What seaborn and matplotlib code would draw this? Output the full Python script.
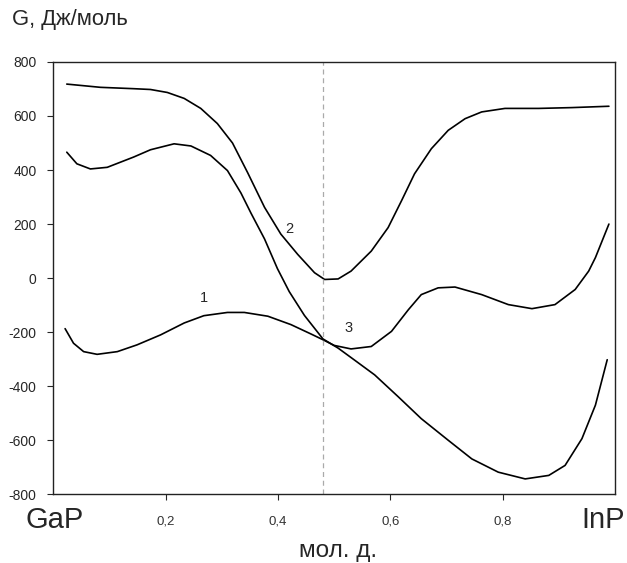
import matplotlib
matplotlib.use("Agg")
import matplotlib.pyplot as plt
import pandas as pd
import seaborn as sns

# curve values (x in mole fraction, G in J/mol)
x1 = [0.021, 0.036, 0.054, 0.078, 0.114, 0.149, 0.191, 0.233, 0.268, 0.310,
      0.340, 0.382, 0.423, 0.459, 0.480, 0.500, 0.530, 0.566, 0.602, 0.632,
      0.655, 0.685, 0.715, 0.7625, 0.810, 0.852, 0.893, 0.929, 0.953, 0.965,
      0.989]
g1 = [-187, -241, -272, -282, -272, -247, -210, -166, -139, -127,
      -127, -141, -172, -207, -228, -249, -262, -253, -197, -117,
      -61, -36, -33, -61, -98, -113, -98, -42, 26, 76,
      200]

x2 = [0.024, 0.084, 0.143, 0.173, 0.203, 0.233, 0.2625, 0.292, 0.319, 0.346,
      0.376, 0.405, 0.435, 0.465, 0.483, 0.507, 0.530, 0.566, 0.596, 0.620,
      0.643, 0.673, 0.703, 0.733, 0.7625, 0.804, 0.864, 0.923, 0.989]
g2 = [718, 706, 701, 698, 687, 665, 628, 572, 500, 390,
      262, 163, 88, 20, -5, -3, 26, 100, 187, 287,
      386, 479, 547, 590, 615, 628, 628, 631, 636]

x3 = [0.024, 0.042, 0.066, 0.096, 0.143, 0.173, 0.215, 0.245, 0.280, 0.310,
      0.334, 0.352, 0.376, 0.399, 0.420, 0.447, 0.480, 0.507, 0.536, 0.572,
      0.614, 0.655, 0.703, 0.745, 0.792, 0.840, 0.882, 0.911, 0.941, 0.965,
      0.986]
g3 = [466, 423, 404, 410, 448, 475, 497, 489, 454, 398,
      315, 240, 145, 35, -50, -138, -225, -259, -303, -358,
      -439, -520, -600, -669, -718, -743, -730, -693, -594, -470,
      -302]

curve_labels = ["1", "2", "3"]
label_x = [0.268, 0.42, 0.525]
label_y = [-75, 180, -185]

x_ticks = [0.2, 0.4, 0.6, 0.8]
x_tick_labels = ["0,2", "0,4", "0,6", "0,8"]
y_ticks = [-800, -600, -400, -200, 0, 200, 400, 600, 800]
end_labels = ["GaP", "InP"]
x_mark = 0.48

df = pd.concat([
    pd.DataFrame({"x": x1, "G": g1, "curve": "1"}),
    pd.DataFrame({"x": x2, "G": g2, "curve": "2"}),
    pd.DataFrame({"x": x3, "G": g3, "curve": "3"}),
])

sns.set_style("ticks")
plt.rcParams["font.family"] = ["Liberation Sans", "DejaVu Sans"]

fig = plt.figure(figsize=(6.27, 5.63), dpi=100)
ax = fig.add_axes([0.085, 0.122, 0.896, 0.768])

sns.lineplot(
    data=df, x="x", y="G", hue="curve", estimator=None,
    palette=["black", "black", "black"], linewidth=1.2,
    legend=False, ax=ax,
)
ax.axvline(x_mark, color="#aaaaaa", linestyle=(0, (4, 3)), linewidth=0.9)

for lab, lx, ly in zip(curve_labels, label_x, label_y):
    ax.text(lx, ly, lab, fontsize=10.5, ha="center", va="center")

ax.set_xlim(0, 1)
ax.set_ylim(-800, 800)
ax.set_xticks(x_ticks)
ax.set_xticklabels(x_tick_labels, fontsize=9.5, color="#333333")
ax.set_yticks(y_ticks)
ax.set_yticklabels([str(v) for v in y_ticks], fontsize=10)
ax.tick_params(axis="both", length=4, width=0.8)
ax.tick_params(axis="y", pad=8)
ax.tick_params(axis="x", pad=11)
for sp in ax.spines.values():
    sp.set_visible(True)
    sp.set_color("#222222")
    sp.set_linewidth(1.0)

ax.set_xlabel("")
ax.set_ylabel("")
fig.text(55 / 627, 1 - 520 / 563, end_labels[0], fontsize=21,
         ha="center", va="center")
fig.text(603 / 627, 1 - 520 / 563, end_labels[1], fontsize=21,
         ha="center", va="center")
fig.text(338 / 627, 1 - 551 / 563, "мол. д.", fontsize=17.5,
         ha="center", va="center")
fig.text(12 / 627, 1 - 20 / 563, "G, Дж/моль", fontsize=15.8,
         ha="left", va="center")

fig.savefig("out.png", dpi=100)
